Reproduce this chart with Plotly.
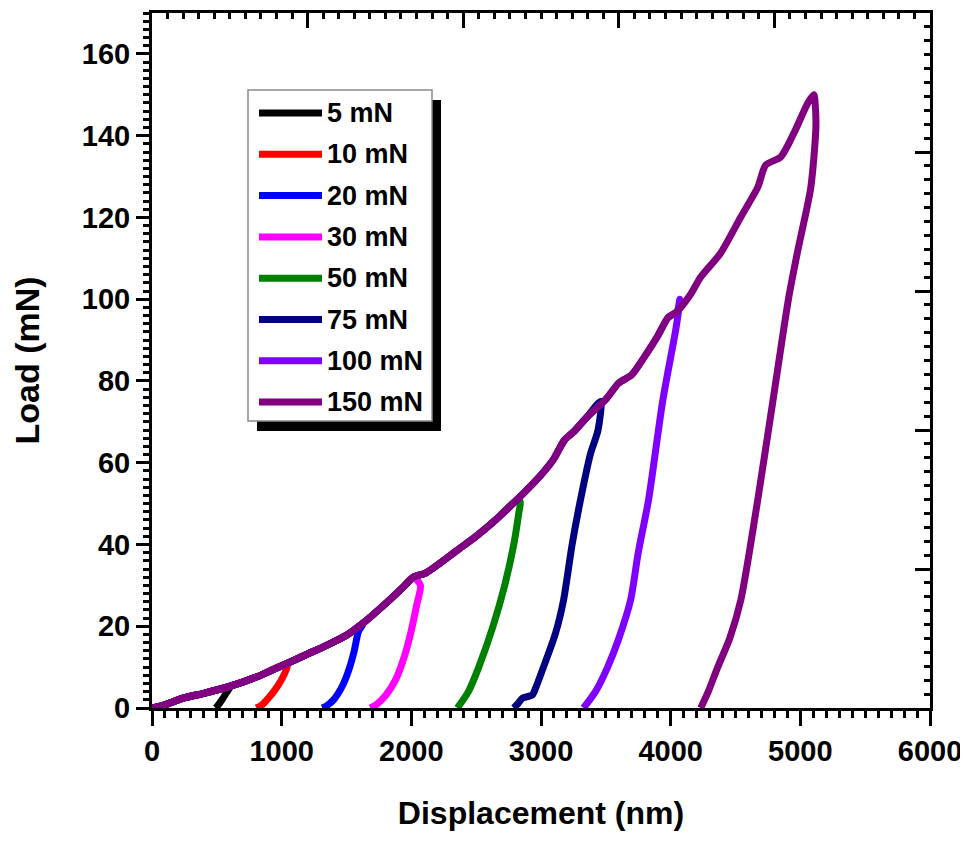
import plotly.graph_objects as go

# ---------------- data ----------------
series_names = ["5 mN", "10 mN", "20 mN", "30 mN", "50 mN", "75 mN", "100 mN", "150 mN"]
series_colors = ["#000000", "#ff0000", "#0000ff", "#ff00ff", "#008000", "#000080", "#8000ff", "#800080"]

# common loading curve (displacement nm, load mN)
loading_x = [0, 100, 240, 400, 579, 800, 1012, 1200, 1351, 1500, 1629, 1800, 1938, 2015, 2110,
             2224, 2350, 2500, 2650, 2800, 3000, 3100, 3180, 3250, 3350, 3500, 3600, 3700, 3800,
             3900, 3980, 4050, 4150, 4232, 4386, 4541, 4672, 4733, 4849, 4950, 5058]
loading_y = [0, 0.8, 2.4, 3.6, 5.1, 7.5, 10.5, 13.2, 15.4, 17.8, 20.8, 25.5, 29.6, 32.0, 33.0,
             35.5, 38.5, 42.0, 46.0, 50.5, 57.0, 61.0, 65.5, 67.5, 71.0, 75.5, 79.5, 81.5, 86.0,
             91.0, 95.5, 97.0, 101.0, 105.4, 111.3, 120.1, 127.4, 132.8, 134.8, 140.6, 148.0]

# unloading branches, from peak down to zero load
unload_5_x = [600, 575, 540, 505, 490]
unload_5_y = [5.0, 3.8, 2.0, 0.5, 0]
unload_10_x = [1045, 1000, 950, 900, 850, 805]
unload_10_y = [10.3, 7.0, 4.5, 2.5, 0.8, 0]
unload_20_x = [1625, 1591, 1560, 1520, 1470, 1400, 1340, 1313]
unload_20_y = [20.5, 18.6, 14.0, 9.5, 5.5, 2.0, 0.4, 0]
unload_30_x = [2070, 2040, 2000, 1950, 1880, 1800, 1720, 1683]
unload_30_y = [30.0, 25.0, 19.0, 13.0, 7.0, 3.0, 0.6, 0]
unload_50_x = [2840, 2830, 2790, 2720, 2630, 2520, 2440, 2355]
unload_50_y = [50.5, 48.0, 40.0, 30.0, 20.0, 10.0, 4.0, 0]
unload_75_x = [3460, 3440, 3380, 3305, 3240, 3174, 3112, 3019, 2960, 2934, 2857, 2820, 2790]
unload_75_y = [75.0, 68.0, 62.0, 51.0, 40.0, 26.4, 18.3, 10.0, 5.0, 3.2, 2.4, 1.0, 0]
unload_100_x = [4070, 4060, 4039, 3938, 3830, 3750, 3691, 3600, 3514, 3420, 3328]
unload_100_y = [100.0, 97.0, 92.5, 75.0, 51.0, 38.0, 26.4, 17.0, 10.0, 4.0, 0]
unload_150_x = [5104, 5116, 5120, 5081, 4981, 4911, 4788, 4672, 4541, 4455, 4363, 4290, 4232]
unload_150_y = [150.0, 147.0, 142.0, 127.4, 112.0, 100.5, 75.0, 51.0, 26.4, 17.0, 10.0, 4.0, 0]

unloads = [
    (unload_5_x, unload_5_y), (unload_10_x, unload_10_y), (unload_20_x, unload_20_y),
    (unload_30_x, unload_30_y), (unload_50_x, unload_50_y), (unload_75_x, unload_75_y),
    (unload_100_x, unload_100_y), (unload_150_x, unload_150_y),
]

x_ticks = [0, 1000, 2000, 3000, 4000, 5000, 6000]
y_ticks = [0, 20, 40, 60, 80, 100, 120, 140, 160]

# ---------------- figure ----------------
FONT = "Liberation Sans, Arial, sans-serif"
fig = go.Figure()

for name, color, (ux, uy) in zip(series_names, series_colors, unloads):
    peak_x = ux[0]
    lx = [x for x in loading_x if x < peak_x]
    ly = [y for x, y in zip(loading_x, loading_y) if x < peak_x]
    fig.add_trace(go.Scatter(
        x=lx + ux, y=ly + uy, mode="lines", name=name,
        line=dict(color=color, width=7, shape="spline", smoothing=0.7),
        showlegend=False,
    ))

# helper trace so that the secondary (top/right) frame axes are drawn
fig.add_trace(go.Scatter(x=[None], y=[None], xaxis="x2", yaxis="y2",
                         showlegend=False, hoverinfo="skip"))

# page offset of the figure (default body margin)
OFF = 8
# plot area in page pixels: left 152, right 930, top 13, bottom 708
L, R, T, B = 152, 930, 13, 708
W_, H_ = 960, 833
PW, PH = R - L, B - T

def px(xp):
    return (xp - L) / PW

def py(yp):
    return (B - yp) / PH

# manual legend (long line samples with shadowed box)
shapes = [
    dict(type="rect", xref="paper", yref="paper", x0=px(257), x1=px(441), y0=py(431), y1=py(100),
         fillcolor="black", line=dict(width=0), layer="above"),
    dict(type="rect", xref="paper", yref="paper", x0=px(248), x1=px(432), y0=py(421), y1=py(90),
         fillcolor="white", line=dict(color="#8a8a8a", width=1.5), layer="above"),
]
annotations = []
for i, (name, color) in enumerate(zip(series_names, series_colors)):
    yrow = 113 + i * 41.3
    shapes.append(dict(type="line", xref="paper", yref="paper", x0=px(259), x1=px(322),
                       y0=py(yrow), y1=py(yrow), line=dict(color=color, width=7), layer="above"))
    annotations.append(dict(xref="paper", yref="paper", x=px(325), y=py(yrow), text=name,
                            showarrow=False, xanchor="left", yanchor="middle",
                            font=dict(family=FONT, size=27, color="black", weight="bold")))

fig.update_layout(
    width=W_, height=H_,
    margin=dict(l=L - OFF, r=W_ - (R - OFF), t=T - OFF, b=H_ - (B - OFF), autoexpand=False),
    paper_bgcolor="white", plot_bgcolor="white",
    font=dict(family=FONT, color="black", weight="bold"),
    shapes=shapes, annotations=annotations,
    showlegend=False,
    xaxis=dict(
        range=[0, 6000], tickvals=x_ticks, ticktext=[str(v) for v in x_ticks],
        ticks="outside", ticklen=15, tickwidth=3, tickcolor="black",
        minor=dict(dtick=100, tick0=0, ticks="outside", ticklen=7, tickwidth=2.5, tickcolor="black"),
        showline=True, linewidth=3, linecolor="black", mirror=False,
        showgrid=False, zeroline=False,
        tickfont=dict(family=FONT, size=29, color="black", weight="bold"),
        title=dict(text="Displacement (nm)", standoff=36,
                   font=dict(family=FONT, size=32, color="black", weight="bold")),
        automargin=False,
    ),
    yaxis=dict(
        range=[0, 170], tickvals=y_ticks, ticktext=[str(v) for v in y_ticks],
        ticks="outside", ticklen=13, tickwidth=3, tickcolor="black",
        minor=dict(dtick=2, tick0=0, ticks="outside", ticklen=6, tickwidth=2.5, tickcolor="black"),
        showline=True, linewidth=3, linecolor="black", mirror=False,
        showgrid=False, zeroline=False,
        tickfont=dict(family=FONT, size=29, color="black", weight="bold"),
        title=dict(text="Load (mN)", standoff=40,
                   font=dict(family=FONT, size=34, color="black", weight="bold")),
        automargin=False,
    ),
    xaxis2=dict(
        overlaying="x", side="top", range=[0, 5], dtick=1, tick0=0,
        ticks="inside", ticklen=15, tickwidth=3, tickcolor="black",
        minor=dict(dtick=0.1, tick0=0, ticks="inside", ticklen=6, tickwidth=2.5, tickcolor="black"),
        showticklabels=False, showline=True, linewidth=3, linecolor="black",
        showgrid=False, zeroline=False, anchor="y2",
    ),
    yaxis2=dict(
        overlaying="y", side="right", range=[0, 5], dtick=1, tick0=0,
        ticks="inside", ticklen=15, tickwidth=3, tickcolor="black",
        minor=dict(dtick=0.1, tick0=0, ticks="inside", ticklen=6, tickwidth=2.5, tickcolor="black"),
        showticklabels=False, showline=True, linewidth=3, linecolor="black",
        showgrid=False, zeroline=False, anchor="x2",
    ),
)

fig.write_html("out.html")
